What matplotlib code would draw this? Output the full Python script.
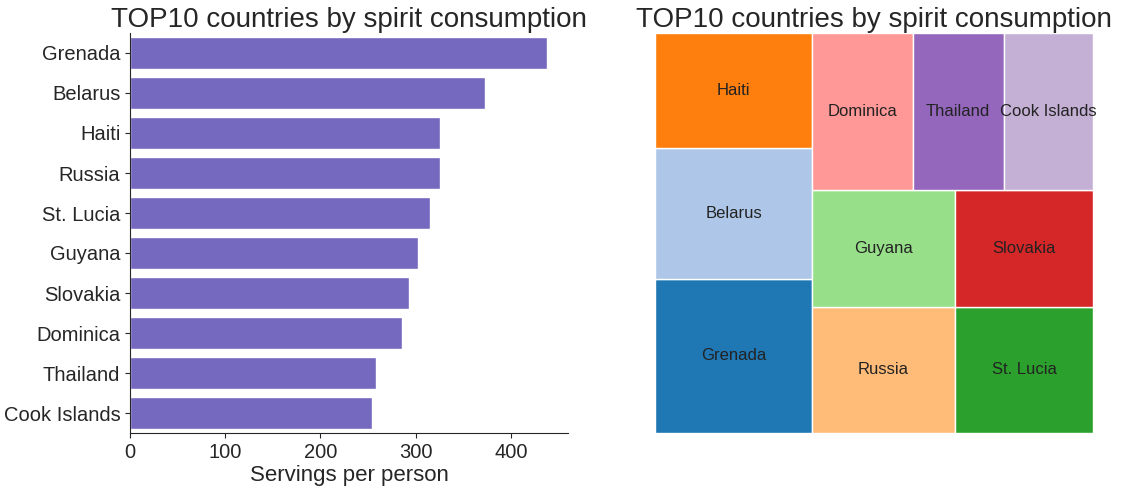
import matplotlib
matplotlib.use("Agg")
import matplotlib.pyplot as plt
import seaborn as sns

countries = ["Grenada", "Belarus", "Haiti", "Russia", "St. Lucia",
             "Guyana", "Slovakia", "Dominica", "Thailand", "Cook Islands"]
servings = [438, 373, 326, 326, 315, 302, 293, 286, 258, 254]


# small squarify implementation (same algorithm as the squarify package)
def layoutrow(sizes, x, y, dx, dy):
    width = sum(sizes) / dy
    rects = []
    for s in sizes:
        rects.append((x, y, width, s / width))
        y += s / width
    return rects


def layoutcol(sizes, x, y, dx, dy):
    height = sum(sizes) / dx
    rects = []
    for s in sizes:
        rects.append((x, y, s / height, height))
        x += s / height
    return rects


def layout(sizes, x, y, dx, dy):
    return layoutrow(sizes, x, y, dx, dy) if dx >= dy else layoutcol(sizes, x, y, dx, dy)


def leftover(sizes, x, y, dx, dy):
    if dx >= dy:
        w = sum(sizes) / dy
        return x + w, y, dx - w, dy
    h = sum(sizes) / dx
    return x, y + h, dx, dy - h


def worst(sizes, x, y, dx, dy):
    return max(max(r[2] / r[3], r[3] / r[2]) for r in layout(sizes, x, y, dx, dy))


def squarify(sizes, x, y, dx, dy):
    if len(sizes) == 0:
        return []
    if len(sizes) == 1:
        return layout(sizes, x, y, dx, dy)
    i = 1
    while i < len(sizes) and worst(sizes[:i], x, y, dx, dy) >= worst(sizes[:i + 1], x, y, dx, dy):
        i += 1
    cur, rem = sizes[:i], sizes[i:]
    return layout(cur, x, y, dx, dy) + squarify(rem, *leftover(cur, x, y, dx, dy))


sns.set_style("ticks")
plt.rcParams["font.family"] = ["Liberation Sans", "DejaVu Sans"]
fig = plt.figure(figsize=(11.22, 4.9), dpi=100)
ax1 = fig.add_axes([130 / 1122, 57 / 490, 438 / 1122, 400 / 490])
ax2 = fig.add_axes([655 / 1122, 57 / 490, 438 / 1122, 400 / 490])

sns.barplot(x=servings, y=countries, color="slateblue", ax=ax1)
ax1.set_title("TOP10 countries by spirit consumption", fontsize=20, pad=3)
ax1.set_xlabel("Servings per person", fontsize=16, labelpad=2)
ax1.set_ylabel("")
ax1.tick_params(labelsize=14.5)
ax1.set_xticks([0, 100, 200, 300, 400])
sns.despine(ax=ax1)

total = sum(servings)
norm = [v * 100 * 100 / total for v in servings]
rects = squarify(norm, 0, 0, 100, 100)
colors = plt.get_cmap("tab20").colors[:10]
for (x, y, dx, dy), c, lab in zip(rects, colors, countries):
    ax2.bar(x, dy, width=dx, bottom=y, align="edge", color=c, edgecolor="white", linewidth=1)
    ax2.text(x + dx / 2, y + dy / 2, lab, ha="center", va="center", fontsize=12, color="#222222")
ax2.set_xlim(0, 100)
ax2.set_ylim(0, 100)
ax2.axis("off")
ax2.set_title("TOP10 countries by spirit consumption", fontsize=20, pad=3)

fig.savefig("out.png", dpi=100)
